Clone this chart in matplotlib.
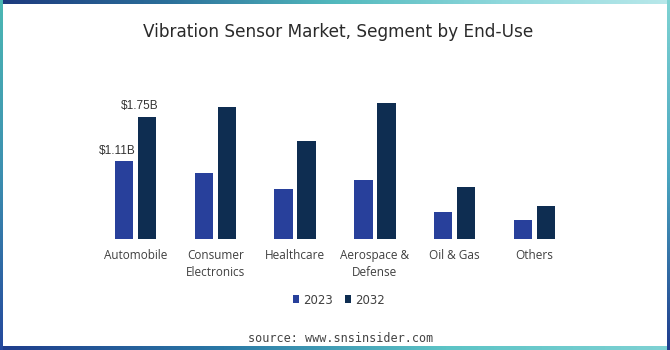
import matplotlib
matplotlib.use("Agg")
import matplotlib.pyplot as plt
import numpy as np
from matplotlib.colors import LinearSegmentedColormap

categories = ["Automobile", "Consumer\nElectronics", "Healthcare",
              "Aerospace &\nDefense", "Oil & Gas", "Others"]
values_2023 = [1.11, 0.95, 0.72, 0.84, 0.38, 0.27]
values_2032 = [1.75, 1.89, 1.40, 1.94, 0.75, 0.47]
series_names = ["2023", "2032"]
label_text = {(0, 0): "$1.11B", (0, 1): "$1.75B"}

W, H = 670, 350
fig = plt.figure(figsize=(W / 100, H / 100), dpi=100)
fig.patch.set_facecolor("white")

# gradient frame
bg = fig.add_axes([0, 0, 1, 1])
bg.set_xlim(0, W)
bg.set_ylim(H, 0)
bg.axis("off")
def strip(x0, x1, y0, y1, colors, vertical=False):
    cmap = LinearSegmentedColormap.from_list("g", colors)
    grad = np.linspace(0, 1, 256)
    img = grad[:, None] if vertical else grad[None, :]
    bg.imshow(img, cmap=cmap, extent=(x0, x1, y1, y0), aspect="auto",
              interpolation="bilinear", zorder=1)
strip(0, W, 0, 4, ["#1d3a7e", "#2b6f9a", "#52b9bd", "#8fd8dc", "#b8e8ea"])
strip(0, W, H - 4, H, ["#1f3d8c", "#2a79a6", "#5cc4c6", "#7fd2d4"])
strip(0, 3, 0, H, ["#4cb8b4", "#3c8fb0", "#24489c"], vertical=True)
strip(W - 3, W, 0, H, ["#7fd3d3", "#4aa6c0", "#1f3c8e"], vertical=True)
bg.set_xlim(0, W)
bg.set_ylim(H, 0)

ax = fig.add_axes([95.6 / W, 111 / H, 478.8 / W, 139.8 / H])
ax.set_facecolor("none")
x = np.arange(len(categories))
bw = 0.232
off = 0.144
c23, c32 = "#28409b", "#0e2d51"
b1 = ax.bar(x - off, values_2023, bw, color=c23, label=series_names[0], zorder=3)
b2 = ax.bar(x + off, values_2032, bw, color=c32, label=series_names[1], zorder=3)
ax.set_xlim(-0.5, len(categories) - 0.5)
ax.set_ylim(0, 2.0)
for s in ax.spines.values():
    s.set_visible(False)
ax.set_yticks([])
ax.set_xticks(x)
ax.set_xticklabels(categories, fontsize=8.5, color="#404040", family="Open Sans",
                   linespacing=1.35)
ax.tick_params(axis="x", length=0, pad=7.5)

for (i, j), txt in label_text.items():
    bars = b1 if j == 0 else b2
    r = bars[i]
    ax.annotate(txt, (r.get_x() + r.get_width(), r.get_height()),
                xytext=(1.5, 3.5), textcoords="offset points", ha="right", va="bottom",
                fontsize=8.5, color="#333333", family="Liberation Sans")

fig.text(0.504, 1 - 32 / H, "Vibration Sensor Market, Segment by End-Use",
         ha="center", va="center", fontsize=12.2, color="#2a2a2a", family="DejaVu Sans")

leg = fig.legend(handles=[b1, b2], labels=series_names, loc="center",
                 bbox_to_anchor=(339 / W, 1 - 300 / H), ncol=2, frameon=False,
                 handlelength=0.55, handleheight=0.65, handletextpad=0.35,
                 columnspacing=1.0, labelcolor="#404040",
                 prop={"family": "DejaVu Sans", "size": 8.5})

fig.text(341 / W, 1 - 338 / H, "source: www.snsinsider.com", ha="center", va="center",
         fontsize=8.5, color="#444444", family="DejaVu Sans Mono")

fig.savefig("out.png", dpi=100, facecolor="white")
